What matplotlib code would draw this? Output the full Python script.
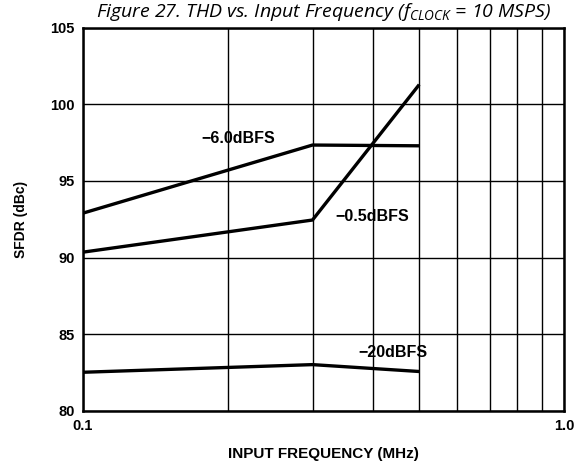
import matplotlib
matplotlib.use('Agg')
import matplotlib.pyplot as plt

# values
freq = [0.1, 0.3, 0.5]
sfdr_m6 = [92.9, 97.35, 97.3]
sfdr_m05 = [90.35, 92.45, 101.3]
sfdr_m20 = [82.5, 83.0, 82.55]

labels = ['\u22126.0dBFS', '\u22120.5dBFS', '\u221220dBFS']
label_pos = [(0.21, 97.75), (0.40, 92.7), (0.44, 83.8)]

plt.rcParams['font.family'] = ['Liberation Sans', 'DejaVu Sans']
plt.rcParams['mathtext.fontset'] = 'custom'
plt.rcParams['mathtext.rm'] = 'Open Sans:italic'
plt.rcParams['mathtext.it'] = 'Open Sans:italic'

fig = plt.figure(figsize=(5.84, 4.61), dpi=100)
ax = fig.add_axes([0.1421, 0.1095, 0.8237, 0.8298])

for y in (sfdr_m6, sfdr_m05, sfdr_m20):
    ax.plot(freq, y, color='black', linewidth=2.4, solid_capstyle='butt')

for txt, (x, y) in zip(labels, label_pos):
    ax.text(x, y, txt, ha='center', va='center', fontsize=11.5, fontweight='bold')

ax.set_xscale('log')
ax.set_xlim(0.1, 1.0)
ax.set_ylim(80, 105)
ax.set_xticks([0.1, 1.0])
ax.set_xticklabels(['0.1', '1.0'])
ax.set_xticks([0.2, 0.3, 0.4, 0.5, 0.6, 0.7, 0.8, 0.9], minor=True)
ax.xaxis.set_minor_formatter(matplotlib.ticker.NullFormatter())
ax.set_yticks([80, 85, 90, 95, 100, 105])
ax.grid(True, which='both', color='black', linewidth=1.0)
ax.tick_params(which='both', length=0, labelsize=10.5, pad=6)
for lab in ax.get_xticklabels() + ax.get_yticklabels():
    lab.set_fontweight('bold')
for sp in ax.spines.values():
    sp.set_linewidth(1.8)

ax.set_ylabel('SFDR (dBc)', fontsize=10, fontweight='bold')
ax.yaxis.set_label_coords(-0.114, 0.5)
ax.set_xlabel('INPUT FREQUENCY (MHz)', fontsize=11, fontweight='bold')
ax.xaxis.set_label_coords(0.5, -0.095)
ax.xaxis.label.set_va('top')

fig.text(0.5535, 1 - 17 / 461,
         r'Figure 27. THD vs. Input Frequency ($f_{\rm CLOCK}$ = 10 MSPS)',
         ha='center', va='baseline', fontsize=14, family='Open Sans', style='italic')

fig.savefig('out.png', dpi=100)
